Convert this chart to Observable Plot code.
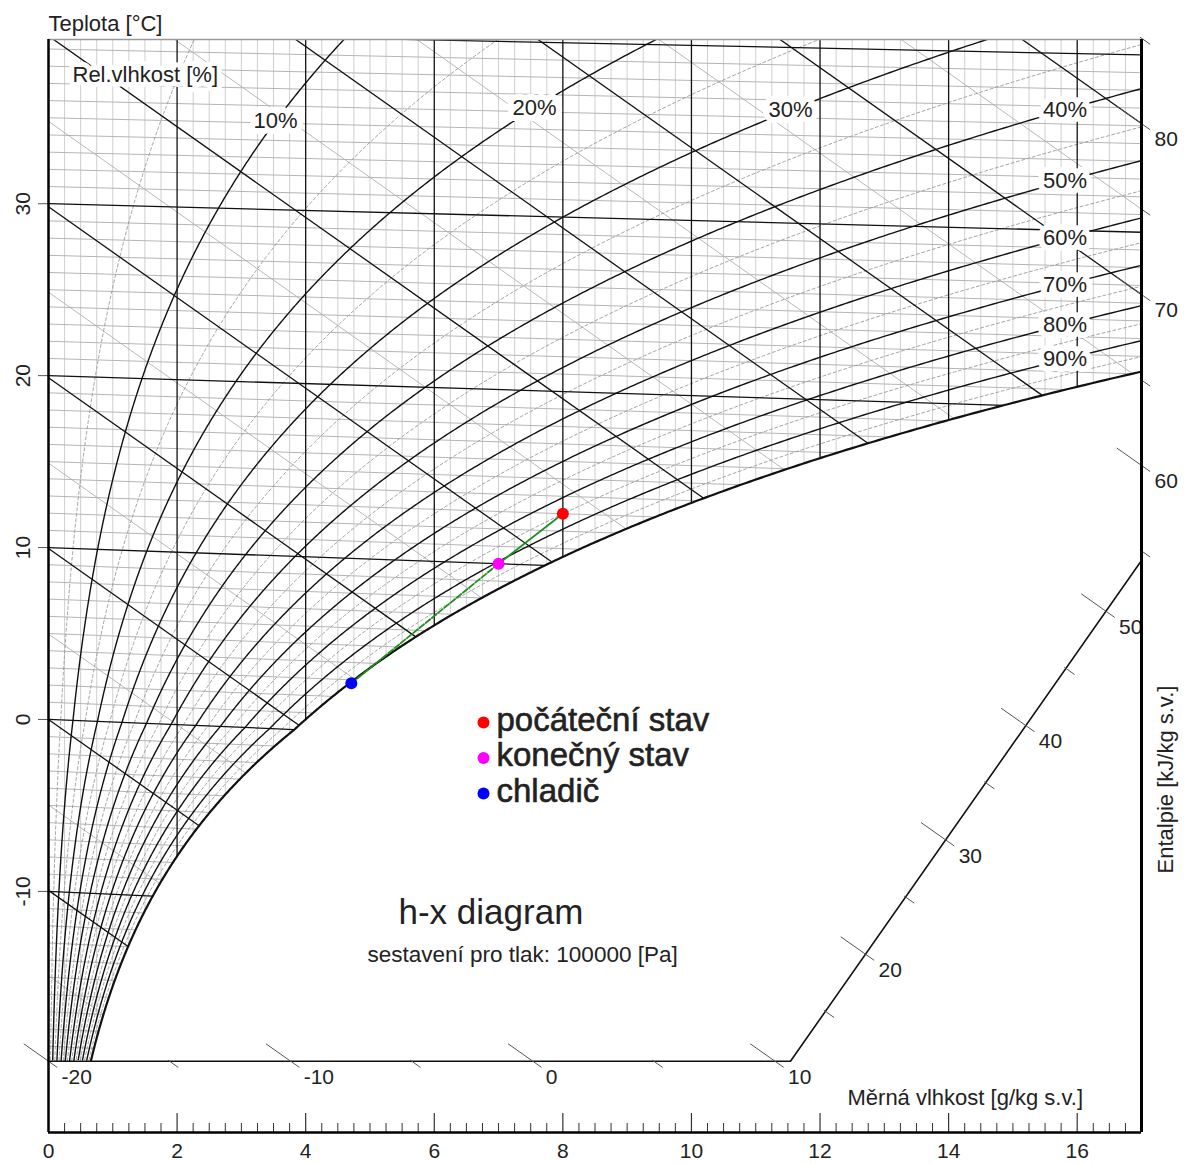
<!DOCTYPE html>
<html>
<head>
<meta charset="utf-8">
<script src="https://cdn.jsdelivr.net/npm/d3@7"></script>
<script src="https://cdn.jsdelivr.net/npm/@observablehq/plot@0.6"></script>
<style>
  body { margin: 0; background: #fff; }
  #chart { width: 1187px; height: 1164px; }
</style>
</head>
<body>
<div id="chart"></div>
<script>
// ---------------- data ----------------
const pressure = 100000;                       // Pa
const rhMajor = [10, 20, 30, 40, 50, 60, 70, 80, 90];
const rhMinor = [5, 15, 25, 35, 45, 55, 65, 75, 85, 95];
const isoMajor = [-10, 0, 10, 20, 30, 40];
const isoMinor = d3.range(-19, 41, 1);
const xMajorLines = [2, 4, 6, 8, 10, 12, 14, 16];
const xMinorLines = d3.range(0.25, 17, 0.25);
const hMajorLines = [-10, 0, 10, 20, 30, 40, 50, 60, 70, 80];
const hMinorLines = [-15, -5, 5, 15, 25, 35, 45, 55, 65, 75, 85];
const xTicks = [0, 2, 4, 6, 8, 10, 12, 14, 16];
const tTicks = [30, 20, 10, 0, -10];
const hTicks = [-20, -10, 0, 10, 20, 30, 40, 50, 60, 70, 80];
const hMinorTicks = [-15, -5, 5, 15, 25, 35, 45, 55, 65, 75, 85];
const stateNames = ["počáteční stav", "konečný stav", "chladič"];
const stateX = [8.0, 7.0, 4.71];      // g/kg
const stateT = [13.0, 10.0, 2.8];     // °C
const stateColors = ["#ff0000", "#ff00ff", "#0000ff"];

// ---------------- layout constants ----------------
const C = 2.655;                       // skew of the h-x chart
const yMin = -24.17, yMax = 39.79;
const rhLabelX = {10: 3.53, 20: 7.56, 30: 11.54, 40: 15.81, 50: 15.81, 60: 15.81, 70: 15.81, 80: 15.81, 90: 15.81};
const scaleCorner = {x: 11.54, y: -20}, scaleEnd = {x: 17, y: 9.3};

// ---------------- psychrometrics ----------------
const ps = t => t >= 0 ? 611.2 * Math.exp(17.62 * t / (243.12 + t)) : 611.2 * Math.exp(22.46 * t / (272.62 + t));
const xOf = (t, phi) => { const pv = phi * ps(t); return 622 * pv / (pressure - pv); };
const enth = (t, x) => 1.006 * t + x * (2.501 + 0.00186 * t);
const Ysk = (t, x) => enth(t, x) - C * x;
const tOfPs = p => { const L = Math.log(p / 611.2); return p >= 611.2 ? 243.12 * L / (17.62 - L) : 272.62 * L / (22.46 - L); };
const tAt = (x, phi) => tOfPs(x * pressure / ((622 + x) * phi));
function tSatOfH(h) { let lo = -40, hi = 60; for (let i = 0; i < 60; i++) { const m = (lo + hi) / 2; if (enth(m, xOf(m, 1)) < h) lo = m; else hi = m; } return lo; }

const tSteps = d3.range(-20, 45.001, 0.1);
const rhCurve = rh => tSteps.map(t => { const x = xOf(t, rh / 100); return {key: "rh" + rh, x, y: Ysk(t, x)}; })
  .filter(d => d.y >= -20 && d.x <= 17.5);
const isoLine = t => { const xe = xOf(t, 1); return [{key: "t" + t, x: 0, y: Ysk(t, 0)}, {key: "t" + t, x: xe, y: Ysk(t, xe)}]; };
const vLine = x => [{key: "x" + x, x, y: Math.max(-20, Ysk(tAt(x, 1), x))}, {key: "x" + x, x, y: 40}];
const hLine = h => { const xe = xOf(tSatOfH(h), 1); return [{key: "h" + h, x: 0, y: h}, {key: "h" + h, x: xe, y: h - C * xe}]; };

function hScalePoint(h) {
  let x = (h - scaleCorner.y) / C;
  if (x <= scaleCorner.x) return {x, y: scaleCorner.y};
  const s = (scaleEnd.y - scaleCorner.y) / (scaleEnd.x - scaleCorner.x);
  x = (h - scaleCorner.y + s * scaleCorner.x) / (s + C);
  if (x <= scaleEnd.x) return {x, y: scaleCorner.y + s * (x - scaleCorner.x)};
  return {x: scaleEnd.x, y: h - scaleEnd.x * C};
}
const tickSeg = (h, back, fwd) => { const p = hScalePoint(h);
  return [{key: "k" + h, x: p.x - back, y: p.y + back * C}, {key: "k" + h, x: p.x + fwd, y: p.y - fwd * C}]; };

const states = stateNames.map((name, i) => ({name, x: stateX[i], t: stateT[i], color: stateColors[i], y: Ysk(stateT[i], stateX[i])}));

const rhLabels = [...rhMajor].map(rh => { const x = rhLabelX[rh]; const t = tAt(x, rh / 100); return {label: rh + "%", x, y: Ysk(t, x)}; });

// ---------------- helpers for fixed texts ----------------
const fixedText = (text, X, Yb, opts = {}) => Plot.text([text], {
  frameAnchor: "top-left", dx: X - 48, dy: Yb - 39, text: d => d,
  textAnchor: "start", lineAnchor: "bottom", fontSize: 22, fill: "#222", ...opts});
const legendDot = (i, Y) => Plot.dot([i], {frameAnchor: "top-left", dx: 483 - 48, dy: Y - 39, r: 6, fill: stateColors[i], stroke: "none"});

const chart = Plot.plot({
  width: 1187, height: 1164,
  marginLeft: 48, marginRight: 46, marginTop: 39, marginBottom: 32,
  x: {domain: [0, 17], axis: null},
  y: {domain: [yMin, yMax], axis: null},
  color: {type: "identity"},
  style: {fontFamily: "'Liberation Sans', Arial, sans-serif", background: "#fff", color: "#222"},
  marks: [
    // light grid
    Plot.line(xMinorLines.filter(x => !xMajorLines.includes(x)).flatMap(vLine), {x: "x", y: "y", z: "key", stroke: "#cfcfcf", strokeWidth: 1, clip: true}),
    Plot.line(isoMinor.filter(t => !isoMajor.includes(t)).flatMap(isoLine), {x: "x", y: "y", z: "key", stroke: "#b5b5b5", strokeWidth: 1, clip: true}),
    Plot.line(hMinorLines.flatMap(hLine), {x: "x", y: "y", z: "key", stroke: "#b0b0b0", strokeWidth: 0.9, clip: true}),
    Plot.line(rhMinor.flatMap(rhCurve), {x: "x", y: "y", z: "key", stroke: "#999", strokeWidth: 0.9, strokeDasharray: "3,2.5", clip: true}),
    // black grid
    Plot.line(xMajorLines.flatMap(vLine), {x: "x", y: "y", z: "key", stroke: "#111", strokeWidth: 1.3, clip: true}),
    Plot.line(isoMajor.flatMap(isoLine), {x: "x", y: "y", z: "key", stroke: "#111", strokeWidth: 1.3, clip: true}),
    Plot.line(hMajorLines.flatMap(hLine), {x: "x", y: "y", z: "key", stroke: "#111", strokeWidth: 1.3, clip: true}),
    Plot.line(rhMajor.flatMap(rhCurve), {x: "x", y: "y", z: "key", stroke: "#111", strokeWidth: 1.4, clip: true}),
    Plot.line(rhCurve(100), {x: "x", y: "y", stroke: "#111", strokeWidth: 2.2, clip: true}),
    // enthalpy scale
    Plot.line([{x: 0, y: scaleCorner.y}, scaleCorner, scaleEnd], {x: "x", y: "y", stroke: "#111", strokeWidth: 1.6}),
    Plot.line(hTicks.flatMap(h => tickSeg(h, 0.38, 0.13)), {x: "x", y: "y", z: "key", stroke: "#555", strokeWidth: 1}),
    Plot.line(hMinorTicks.flatMap(h => tickSeg(h, 0.02, 0.13)), {x: "x", y: "y", z: "key", stroke: "#555", strokeWidth: 1}),
    Plot.text(hTicks.map(h => ({h, ...hScalePoint(h)})), {x: "x", y: "y", text: d => String(d.h), dx: 13, dy: 16, textAnchor: "start", lineAnchor: "middle", fontSize: 21, fill: "#222"}),
    // RH labels
    Plot.text(rhLabels, {x: "x", y: "y", text: "label", fontSize: 22, fill: "#222", stroke: "#fff", strokeWidth: 12, strokeLinejoin: "round", paintOrder: "stroke"}),
    fixedText("Rel.vlhkost [%]", 72, 81, {stroke: "#fff", strokeWidth: 10, strokeLinejoin: "round", paintOrder: "stroke"}),
    // process
    Plot.line(states.slice(0, 2), {x: "x", y: "y", stroke: "#1f8f1f", strokeWidth: 1.8}),
    Plot.line(states.slice(1, 3), {x: "x", y: "y", stroke: "#1f8f1f", strokeWidth: 1.8, strokeDasharray: "6,2"}),
    Plot.dot(states, {x: "x", y: "y", r: 6, fill: "color", stroke: "none"}),
    // axes
    Plot.ruleX(xMinorLines.filter(x => x % 2 !== 0), {y1: yMin, y2: yMin + 9 / 17.09, stroke: "#333", strokeWidth: 1}),
    Plot.ruleX(xTicks.slice(1), {y1: yMin, y2: yMin + 19 / 17.09, stroke: "#333", strokeWidth: 1.2}),
    Plot.text(xTicks, {x: d => d, frameAnchor: "bottom", dy: 19, textAnchor: "middle", lineAnchor: "middle", text: d => String(d), fontSize: 21, fill: "#222"}),
    Plot.ruleY(tTicks.map(t => 1.006 * t), {x1: -10 / 64.29, x2: 0, stroke: "#555", strokeWidth: 1}),
    Plot.text(tTicks, {y: t => 1.006 * t, frameAnchor: "left", dx: -25, rotate: -90, textAnchor: "middle", lineAnchor: "middle", text: d => String(d), fontSize: 21, fill: "#222"}),
    // frame
    Plot.ruleY([yMax], {stroke: "#9a9a9a", strokeWidth: 1.5}),
    Plot.ruleX([0], {stroke: "#000", strokeWidth: 2.5}),
    Plot.ruleX([17], {stroke: "#000", strokeWidth: 3}),
    Plot.ruleY([yMin], {stroke: "#000", strokeWidth: 2.5}),
    // titles
    fixedText("Teplota [°C]", 48, 30),
    fixedText("Měrná vlhkost [g/kg s.v.]", 847, 1104),
    Plot.text(["Entalpie [kJ/kg s.v.]"], {frameAnchor: "top-left", dx: 1165 - 48, dy: 779 - 39, text: d => d, rotate: -90, textAnchor: "middle", lineAnchor: "middle", fontSize: 22, fill: "#222"}),
    fixedText("h-x diagram", 398, 923, {fontSize: 35}),
    fixedText("sestavení pro tlak: 100000 [Pa]", 367, 961, {fontSize: 22.5}),
    // legend
    legendDot(0, 722), legendDot(1, 757.5), legendDot(2, 793),
    fixedText(stateNames[0], 496, 730, {fontSize: 33, stroke: "#222", strokeWidth: 0.6}),
    fixedText(stateNames[1], 496, 765.5, {fontSize: 33, stroke: "#222", strokeWidth: 0.6}),
    fixedText(stateNames[2], 496, 801, {fontSize: 33, stroke: "#222", strokeWidth: 0.6})
  ]
});
document.getElementById("chart").append(chart);
</script>
</body>
</html>
